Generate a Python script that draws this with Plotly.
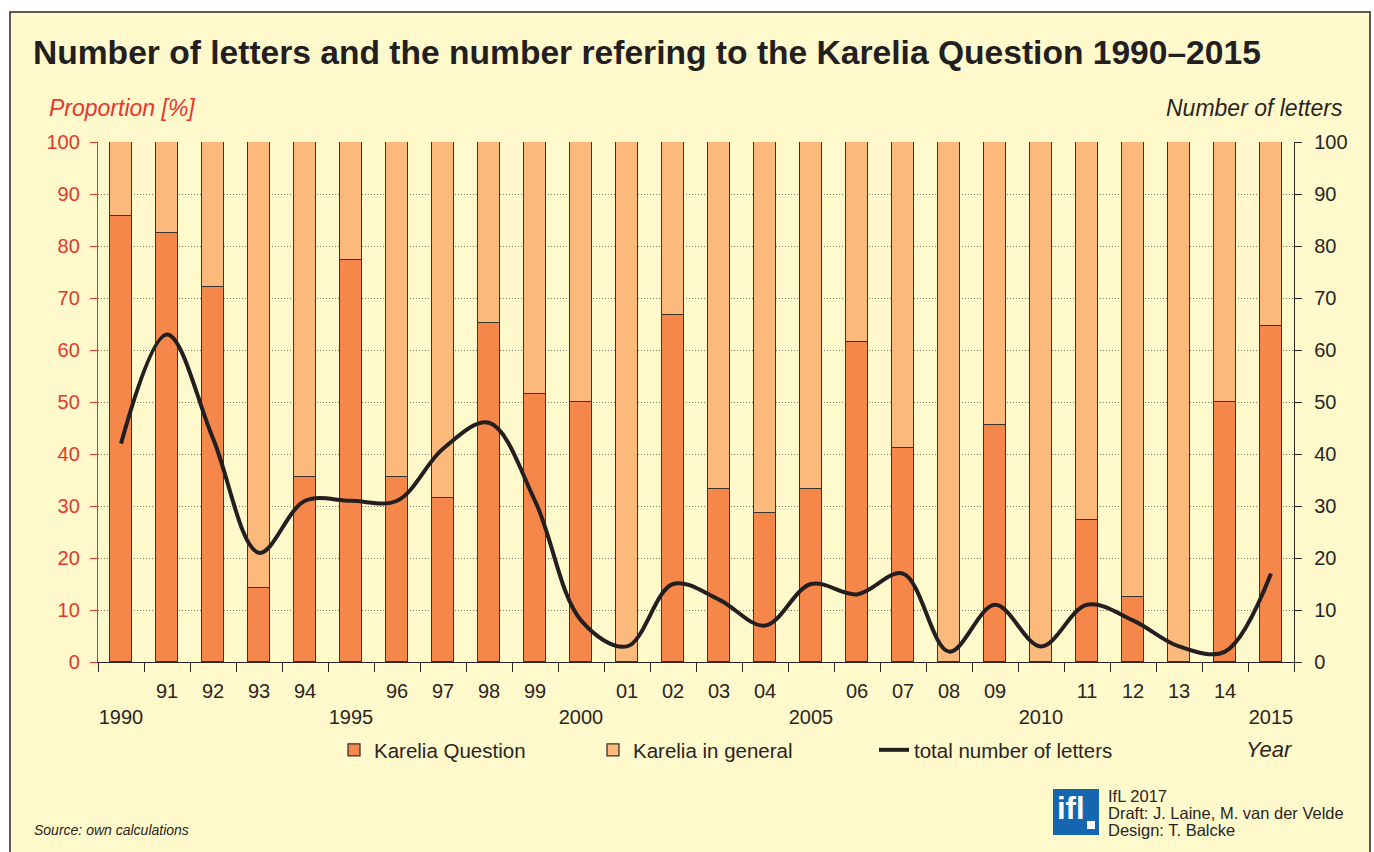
import plotly.graph_objects as go

years = list(range(1990, 2016))
tick_text = ["&nbsp;<br>1990", "91", "92", "93", "94", "&nbsp;<br>1995", "96", "97", "98", "99",
             "&nbsp;<br>2000", "01", "02", "03", "04", "&nbsp;<br>2005", "06", "07", "08", "09",
             "&nbsp;<br>2010", "11", "12", "13", "14", "&nbsp;<br>2015"]
karelia_question = [85.7, 82.5, 72.1, 14.3, 35.5, 77.4, 35.5, 31.6, 65.2, 51.6,
                    50.0, 0.0, 66.7, 33.3, 28.6, 33.3, 61.5, 41.2, 0.0, 45.5,
                    0.0, 27.3, 12.5, 0.0, 50.0, 64.7]
karelia_general = [round(100 - v, 1) for v in karelia_question]
total_letters = [42, 63, 43, 21, 31, 31, 31, 41, 46, 31,
                 8, 3, 15, 12, 7, 15, 13, 17, 2, 11,
                 3, 11, 8, 3, 2, 17]
y_ticks = list(range(0, 101, 10))

CREAM = "#FFF9CC"
DARK = "#2a2522"
RED = "#E8362C"
ORANGE = "#F5874A"
LIGHT = "#FBBA7C"
FONT = "Liberation Sans, Arial, Helvetica, sans-serif"

idx = list(range(len(years)))

fig = go.Figure()
fig.add_trace(go.Bar(x=idx, y=karelia_question, name="Karelia Question", width=0.48, legend="legend",
                     marker=dict(color=ORANGE, line=dict(color="#3a332e", width=1.3))))
fig.add_trace(go.Bar(x=idx, y=karelia_general, name="Karelia in general", width=0.48, legend="legend2",
                     marker=dict(color=LIGHT, line=dict(color="#3a332e", width=1.3))))
fig.add_trace(go.Scatter(x=idx, y=total_letters, name="total number of letters", yaxis="y2",
                         legend="legend3", mode="lines",
                         line=dict(color="#231f20", width=4, shape="spline", smoothing=1.0)))

L, R, T, B = 98, 80, 142, 190
W, H = 1374, 852
pw = W - L - R
ph = H - T - B

def px2x(px):
    return (px - L) / pw

def py2y(py):
    return (H - B - py) / ph

def leg(xpx):
    return dict(orientation="h", x=px2x(xpx), y=py2y(750), xanchor="left", yanchor="middle",
                font=dict(size=20.5, color=DARK), bgcolor="rgba(0,0,0,0)")

fig.update_layout(
    width=W, height=H,
    margin=dict(l=L, r=R, t=T, b=B, pad=0),
    paper_bgcolor="white",
    plot_bgcolor="rgba(0,0,0,0)",
    barmode="stack",
    bargap=0,
    font=dict(family=FONT, color=DARK, size=20),
    title=dict(text="<b>Number of letters and the number refering to the Karelia Question 1990–2015</b>",
               xref="container", yref="container", x=33 / W, y=1 - 52 / H,
               xanchor="left", yanchor="middle",
               font=dict(family=FONT, size=33.6, color="#231f20")),
    showlegend=True,
    legend=leg(334),
    legend2=leg(593),
    legend3=leg(874),
    xaxis=dict(range=[-0.5, 25.5], tickmode="array", tickvals=idx, ticktext=tick_text,
               ticks="", showgrid=False, zeroline=False,
               showline=True, linecolor=DARK, linewidth=1.3,
               tickfont=dict(size=20, color=DARK),
               minor=dict(tickmode="array", tickvals=[i - 0.5 for i in range(len(years) + 1)],
                          ticks="outside", ticklen=9, tickcolor=DARK, tickwidth=1.3, showgrid=False),
               ticklabelstandoff=11),
    yaxis=dict(range=[0, 100], tickmode="array", tickvals=y_ticks,
               ticks="outside", ticklen=7, tickcolor=RED, tickwidth=1.3,
               showline=True, linecolor=RED, linewidth=1.3,
               tickfont=dict(size=20, color=RED),
               showgrid=True, gridcolor="#7d7868", griddash="1px,2px", gridwidth=1,
               zeroline=False, ticklabelstandoff=6),
    yaxis2=dict(range=[0, 100], tickmode="array", tickvals=y_ticks, overlaying="y", side="right",
                ticks="outside", ticklen=7, tickcolor=DARK, tickwidth=1.3,
                showline=True, linecolor=DARK, linewidth=1.3,
                tickfont=dict(size=20, color=DARK), showgrid=False, zeroline=False,
                ticklabelstandoff=8),
)

# frame background
fig.add_shape(type="rect", xref="paper", yref="paper",
              x0=px2x(10), x1=px2x(1370), y0=py2y(870), y1=py2y(12),
              fillcolor=CREAM, line=dict(color=DARK, width=1.5), layer="below")

# logo box
fig.add_shape(type="rect", xref="paper", yref="paper",
              x0=px2x(1053), x1=px2x(1099), y0=py2y(835), y1=py2y(789),
              fillcolor="#1466B0", line=dict(width=0), layer="above")
fig.add_shape(type="rect", xref="paper", yref="paper",
              x0=px2x(1087), x1=px2x(1095), y0=py2y(829), y1=py2y(821),
              fillcolor="white", line=dict(width=0), layer="above")

ann = [
    dict(text="<i>Proportion [%]</i>", x=px2x(47), y=py2y(108), xanchor="left", yanchor="middle",
         font=dict(size=23, color=RED)),
    dict(text="<i>Number of letters</i>", x=px2x(1345), y=py2y(108), xanchor="right", yanchor="middle",
         font=dict(size=23, color=DARK)),
    dict(text="<i>Year</i>", x=px2x(1295), y=py2y(749), xanchor="right", yanchor="middle",
         font=dict(size=22, color=DARK)),
    dict(text="<i>Source: own calculations</i>", x=px2x(32), y=py2y(830), xanchor="left", yanchor="middle",
         font=dict(size=14, color=DARK)),
    dict(text="IfL 2017", x=px2x(1106), y=py2y(796), xanchor="left", yanchor="middle",
         font=dict(size=16.5, color=DARK)),
    dict(text="Draft: J. Laine, M. van der Velde", x=px2x(1106), y=py2y(813), xanchor="left",
         yanchor="middle", font=dict(size=16.5, color=DARK)),
    dict(text="Design: T. Balcke", x=px2x(1106), y=py2y(830), xanchor="left", yanchor="middle",
         font=dict(size=16.5, color=DARK)),
    dict(text="<b>ifl</b>", x=px2x(1055), y=py2y(808), xanchor="left", yanchor="middle",
         font=dict(size=31, color="white")),
]
for a in ann:
    a.update(xref="paper", yref="paper", showarrow=False)
    fig.add_annotation(**a)

fig.write_html("out.html", config={"displayModeBar": False},
               post_script="document.body.style.margin='0px';")
